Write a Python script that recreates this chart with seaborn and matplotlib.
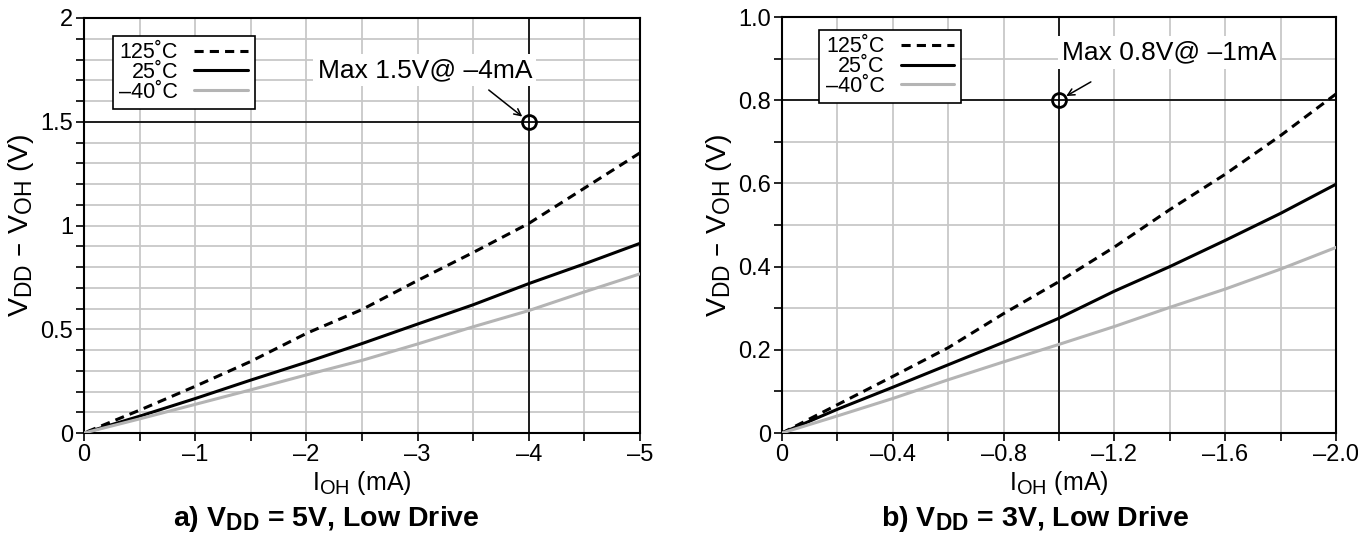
import pandas as pd
import seaborn as sns
import matplotlib.pyplot as plt
import matplotlib._mathtext as mathtext
from matplotlib.lines import Line2D
from matplotlib.ticker import MultipleLocator

# a) VDD = 5V
i_5v = [0, -0.5, -1, -1.5, -2, -2.5, -3, -3.5, -4, -4.5, -5]
v_5v_125 = [0, 0.11, 0.225, 0.345, 0.48, 0.595, 0.735, 0.87, 1.01, 1.18, 1.35]
v_5v_25 = [0, 0.081, 0.166, 0.255, 0.341, 0.431, 0.525, 0.618, 0.72, 0.815, 0.914]
v_5v_m40 = [0, 0.068, 0.138, 0.208, 0.28, 0.35, 0.429, 0.512, 0.59, 0.68, 0.767]

# b) VDD = 3V
i_3v = [0, -0.2, -0.4, -0.6, -0.8, -1.0, -1.2, -1.4, -1.6, -1.8, -2.0]
v_3v_125 = [0, 0.068, 0.136, 0.205, 0.287, 0.364, 0.447, 0.537, 0.622, 0.715, 0.815]
v_3v_25 = [0, 0.057, 0.11, 0.164, 0.218, 0.276, 0.341, 0.4, 0.463, 0.528, 0.598]
v_3v_m40 = [0, 0.041, 0.083, 0.128, 0.171, 0.213, 0.256, 0.302, 0.346, 0.394, 0.446]

temps = ["125˚C", "25˚C", "–40˚C"]

xticks_5v = [0, -1, -2, -3, -4, -5]
xlabels_5v = ["0", "–1", "–2", "–3", "–4", "–5"]
yticks_5v = [0, 0.5, 1, 1.5, 2]
ylabels_5v = ["0", "0.5", "1", "1.5", "2"]

xticks_3v = [0, -0.4, -0.8, -1.2, -1.6, -2.0]
xlabels_3v = ["0", "–0.4", "–0.8", "–1.2", "–1.6", "–2.0"]
yticks_3v = [0, 0.2, 0.4, 0.6, 0.8, 1.0]
ylabels_3v = ["0", "0.2", "0.4", "0.6", "0.8", "1.0"]

sns.set_theme(style="white")
plt.rcParams["font.family"] = ["Liberation Sans", "DejaVu Sans"]
plt.rcParams["mathtext.default"] = "regular"
for k in ["text.color", "axes.labelcolor", "xtick.color", "ytick.color"]:
    plt.rcParams[k] = "black"
# subscripts in the datasheet are bigger than matplotlib's default
mathtext.SHRINK_FACTOR = 0.8

palette = {temps[0]: "black", temps[1]: "black", temps[2]: "#b4b4b4"}
dashes = {temps[0]: (3, 2), temps[1]: "", temps[2]: ""}
GRID = "#c8c8c8"


def long_df(x, ys):
    rows = []
    for t, y in zip(temps, ys):
        for xi, yi in zip(x, y):
            rows.append({"I": xi, "V": yi, "T": t})
    return pd.DataFrame(rows)


def panel(ax, df, xlim, ylim, xt, xl, yt, yl, xminor, yminor, pt, text, text_xy, arrow_from,
          leg_anchor, caption, cap_x):
    ax.set_xlim(*xlim)
    ax.set_ylim(*ylim)
    ax.xaxis.set_minor_locator(MultipleLocator(xminor))
    ax.yaxis.set_minor_locator(MultipleLocator(yminor))
    ax.set_xticks(xt)
    ax.set_xticklabels(xl)
    ax.set_yticks(yt)
    ax.set_yticklabels(yl)
    ax.grid(which="both", color=GRID, lw=1.3, zorder=0)
    ax.set_axisbelow(True)
    ax.tick_params(which="both", direction="out", length=6, width=1.2, color="black",
                   labelsize=17, pad=2, bottom=True, left=True)
    for s in ax.spines.values():
        s.set_color("black")
        s.set_linewidth(1.5)

    ax.axhline(pt[1], color="black", lw=1.2, zorder=1)
    ax.axvline(pt[0], color="black", lw=1.2, zorder=1)

    sns.lineplot(data=df, x="I", y="V", hue="T", style="T", palette=palette,
                 dashes=dashes, lw=2.2, legend=False, ax=ax, zorder=3)

    ax.plot(pt[0], pt[1], "o", mfc="none", mec="black", ms=10, mew=2, zorder=4)
    ax.text(text_xy[0], text_xy[1], text, fontsize=19, ha="left", va="center", zorder=5,
            bbox=dict(facecolor="white", edgecolor="none", pad=3))
    ax.annotate("", xy=pt, xytext=arrow_from,
                arrowprops=dict(arrowstyle="->", color="black", lw=1.1,
                                shrinkA=0, shrinkB=6), zorder=5)

    handles = [Line2D([], [], color="black", lw=2.2, ls=(0, (3, 2))),
               Line2D([], [], color="black", lw=2.2),
               Line2D([], [], color="#b4b4b4", lw=2.2)]
    leg = ax.legend(handles, temps, loc="upper left", bbox_to_anchor=leg_anchor,
                    borderaxespad=0, markerfirst=False, frameon=True, fancybox=False,
                    edgecolor="black", framealpha=1, fontsize=15.5, handlelength=2.5,
                    labelspacing=-0.06, borderpad=0.3, handletextpad=0.75)
    leg.get_frame().set_linewidth(1.2)

    ax.set_xlabel("I$_{OH}$ (mA)", fontsize=18, labelpad=2)
    ax.set_ylabel("V$_{DD}$ – V$_{OH}$ (V)", fontsize=20.5, labelpad=3)
    ax.figure.text(cap_x, 0.026, caption, ha="center", va="baseline",
                   fontsize=20.5, fontweight="bold")


fig = plt.figure(figsize=(13.58, 5.4), dpi=100)
ax1 = fig.add_axes([84 / 1358, 107 / 540, 556 / 1358, 415 / 540])
ax2 = fig.add_axes([782 / 1358, 107 / 540, 554 / 1358, 416 / 540])

panel(ax1, long_df(i_5v, [v_5v_125, v_5v_25, v_5v_m40]), (0, -5), (0, 2),
      xticks_5v, xlabels_5v, yticks_5v, ylabels_5v, 0.5, 0.1,
      (-4, 1.5), "Max 1.5V@ –4mA", (-2.1, 1.75), (-3.64, 1.653), (0.052, 0.957),
      "a) V$_{DD}$ = 5V, Low Drive", 326 / 1358)
panel(ax2, long_df(i_3v, [v_3v_125, v_3v_25, v_3v_m40]), (0, -2.0), (0, 1.0),
      xticks_3v, xlabels_3v, yticks_3v, ylabels_3v, 0.2, 0.1,
      (-1.0, 0.8), "Max 0.8V@ –1mA", (-1.01, 0.915), (-1.115, 0.844), (0.067, 0.969),
      "b) V$_{DD}$ = 3V, Low Drive", 1035 / 1358)

fig.savefig("out.png", dpi=100)
